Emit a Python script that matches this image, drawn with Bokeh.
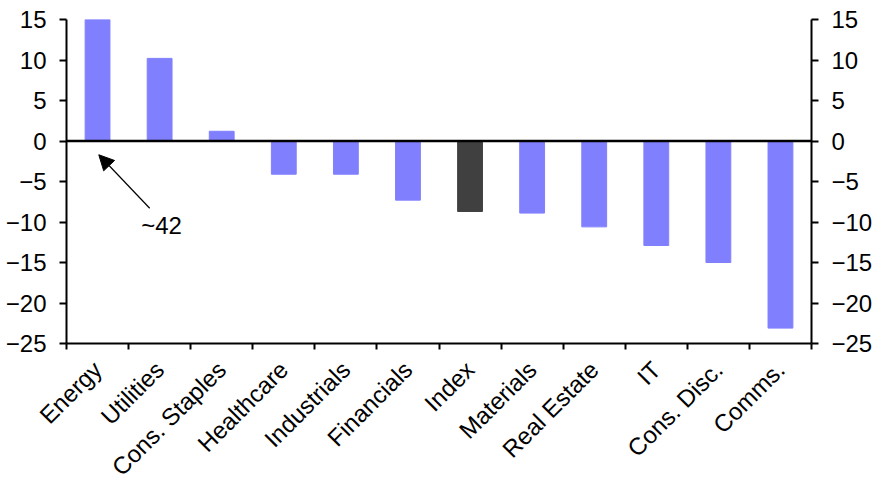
import math
from bokeh.plotting import figure
from bokeh.models import (Range1d, LinearAxis, FixedTicker, ColumnDataSource,
                          Arrow, NormalHead, Span, Label)
from bokeh.embed import file_html
from bokeh.resources import INLINE

categories = ["Energy", "Utilities", "Cons. Staples", "Healthcare", "Industrials",
              "Financials", "Index", "Materials", "Real Estate", "IT",
              "Cons. Disc.", "Comms."]
values = [42, 10.2, 1.2, -4.1, -4.1, -7.3, -8.7, -8.9, -10.6, -12.9, -15.0, -23.1]
y_ticks = [-25, -20, -15, -10, -5, 0, 5, 10, 15]
annotation_text = "~42"

FONT = "Liberation Sans"
FSX = "24px"
BAR = "#8080FF"
IDX = "#404040"

n = len(categories)
xs = [i + 0.5 for i in range(n)]
colors = [IDX if c == "Index" else BAR for c in categories]
src = ColumnDataSource(dict(x=xs, top=values, color=colors, name=categories))

p = figure(frame_width=745, frame_height=324, output_backend="svg", toolbar_location=None,
           x_range=Range1d(0, n), y_range=Range1d(-25, 15),
           min_border_left=66, min_border_right=56, min_border_top=19,
           min_border_bottom=120, y_axis_location=None, x_axis_location=None)
p.outline_line_color = None
p.xgrid.visible = False
p.ygrid.visible = False

p.vbar(x="x", top="top", bottom=0, width=0.4, color="color", source=src)

p.add_layout(Span(location=0, dimension="width", line_color="black", line_width=2.5))

def style_y(ax):
    ax.ticker = FixedTicker(ticks=y_ticks)
    ax.axis_line_width = 2
    ax.axis_line_color = "black"
    ax.major_tick_line_width = 2
    ax.major_tick_in = 0
    ax.major_tick_out = 7
    ax.minor_tick_line_color = None
    ax.major_label_text_font = FONT
    ax.major_label_text_font_size = FSX
    ax.major_label_text_color = "black"
    ax.major_label_standoff = 13

yl = LinearAxis()
style_y(yl)
p.add_layout(yl, "left")
yr = LinearAxis()
style_y(yr)
p.add_layout(yr, "right")

xa = LinearAxis()
xa.ticker = FixedTicker(ticks=xs, minor_ticks=list(range(n + 1)))
xa.major_label_overrides = {x: c for x, c in zip(xs, categories)}
xa.major_tick_line_color = None
xa.minor_tick_line_color = "black"
xa.minor_tick_line_width = 2
xa.minor_tick_in = 0
xa.minor_tick_out = 6
xa.axis_line_width = 2
xa.axis_line_color = "black"
xa.major_label_orientation = math.pi / 4
xa.major_label_text_font = FONT
xa.major_label_text_font_size = FSX
xa.major_label_text_color = "black"
xa.major_label_standoff = 16
p.add_layout(xa, "below")

# annotation for clipped Energy bar
p.add_layout(Arrow(end=NormalHead(size=15, fill_color="black", line_color="black"),
                   x_start=1.34, y_start=-8.3, x_end=0.52, y_end=-1.7,
                   line_color="black", line_width=1.2))
p.add_layout(Label(x=1.53, y=-10.4, text=annotation_text, text_font=FONT,
                   text_font_size=FSX, text_align="center", text_baseline="middle",
                   text_color="black"))

open("out.html", "w").write(file_html(p, INLINE))
